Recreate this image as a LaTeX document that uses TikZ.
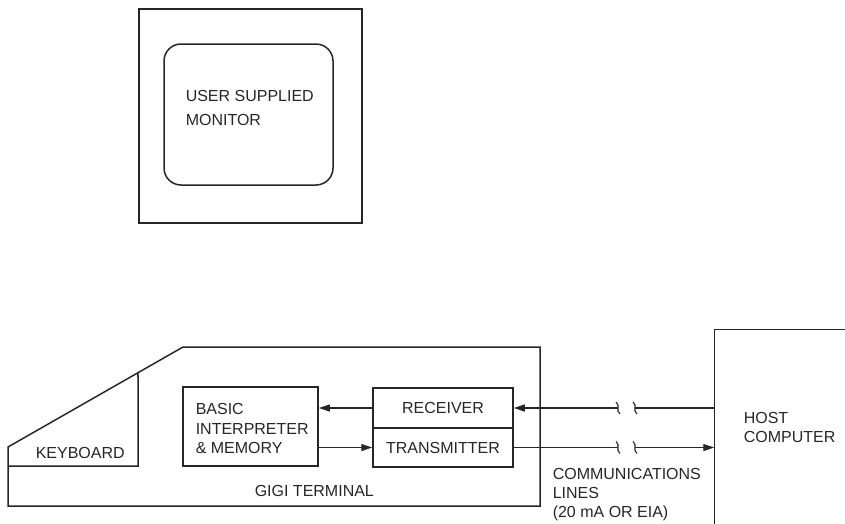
\documentclass[tikz,border=0pt]{standalone}
\usepackage{fontspec}
\setmainfont{Liberation Sans}
\usetikzlibrary{arrows.meta,calc}
\begin{document}
\begin{tikzpicture}[x=1pt,y=-1pt,
  line width=1.5pt, draw=black!85,
  every node/.style={font=\fontsize{16}{20}\selectfont, text=black!85},
  lbl/.style={anchor=base west, inner sep=0pt},
  blk/.style={draw, rectangle, inner sep=0pt},
  tip/.style={line width=1.2pt, -{Triangle[length=11pt,width=7pt]}},
  conn/.style={line width=1.2pt},
  brk/.style={line width=1.1pt}]
\useasboundingbox (0,0) rectangle (845,523);
% monitor
\node[blk, minimum width=223pt, minimum height=214pt] (mon) at (250.5,116) {};
\node[blk, rounded corners=17pt, minimum width=169pt, minimum height=141pt] (scr) at (248.5,114.5) {};
\node[lbl] (t1) at (185,101) {USER SUPPLIED};
\node[lbl] (t2) at (185,125) {MONITOR};
% terminal outline
\coordinate (tl) at (8,447);
\coordinate (tt) at (183,347);
\draw (8,506) -- (tl) -- (tt) -- (540,347) -- (540,506) -- cycle;
\coordinate (kt) at ($(tl)!{130/175}!(tt)$);
\draw (kt) -- (138,466) -- (8,466);
\node[lbl] (kb) at (35,458) {KEYBOARD};
\node[lbl] (gigi) at (254,496) {GIGI TERMINAL};
% blocks
\node[blk, minimum width=135pt, minimum height=79pt] (basic) at (250.5,426.5) {};
\node[lbl] at (195,414) {BASIC};
\node[lbl] at (195,434) {INTERPRETER};
\node[lbl] at (195,453) {\& MEMORY};
\node[blk, minimum width=140pt, minimum height=40pt] (rx) at (443,408) {RECEIVER};
\node[blk, minimum width=140pt, minimum height=39pt] (tx) at (443,447.5) {TRANSMITTER};
% host
\node[inner sep=0pt, minimum width=130pt, minimum height=193pt] (host) at (780,426.5) {};
\draw (host.south west) -- (host.north west) -- (host.north east);
\node[lbl] at (743,423) {HOST};
\node[lbl] at (743,442) {COMPUTER};
% internal arrows
\draw[tip] (rx.west) -- (rx.west -| basic.east);
\draw[tip] (basic.east |- tx.west) -- (tx.west);
% communication lines
\coordinate (a1) at (618,408);
\coordinate (a2) at (635,408);
\coordinate (b1) at (618,447.5);
\coordinate (b2) at (635,447.5);
\draw[tip] (a1) -- (rx.east);
\draw[conn] (rx.east -| host.west) -- (a2);
\draw[conn] (tx.east) -- (b1);
\draw[tip] (b2) -- (tx.east -| host.west);
\foreach \c in {a1,a2,b1,b2}{
  \draw[brk] ($(\c)+(-2,-6)$) .. controls ($(\c)+(3,-2)$) and ($(\c)+(-3,2)$) .. ($(\c)+(2,6)$);
}
\node[lbl] at (552,479) {COMMUNICATIONS};
\node[lbl] at (552,498) {LINES};
\node[lbl] at (552,517) {(20 mA OR EIA)};
\end{tikzpicture}
\end{document}
